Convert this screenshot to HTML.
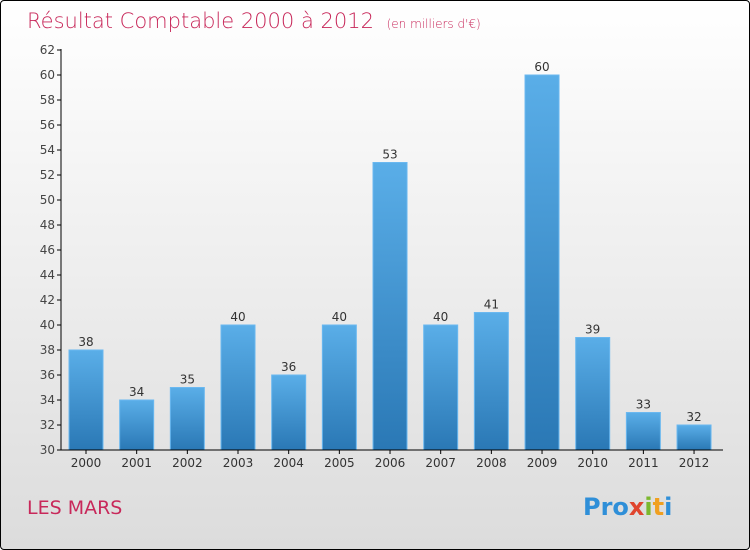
<!DOCTYPE html>
<html><head><meta charset="utf-8"><style>
body{margin:0}
#c{position:relative;width:748px;height:548px;border:1px solid #000;border-radius:4px;background:linear-gradient(#fff,#dcdcdc);overflow:hidden;font-family:"DejaVu Sans","Liberation Sans",sans-serif}
</style></head><body>
<div id="c">
<svg width="748" height="548">
<defs><linearGradient id="g" x1="0" y1="0" x2="0" y2="1"><stop offset="0" stop-color="#5aaee8"/><stop offset="1" stop-color="#2a78b5"/></linearGradient></defs>
<text x="26" y="27" font-size="21" fill="#c8285a" font-family="DejaVu Sans" font-weight="200">Résultat Comptable 2000 à 2012 <tspan font-size="12" dx="6">(en milliers d'€)</tspan></text>
<text x="26" y="513" font-size="19" fill="#c8285a">LES MARS</text>
<text x="582" y="514" font-size="24" font-weight="bold"><tspan fill="#2f8fd8">Pro</tspan><tspan fill="#e0452e">x</tspan><tspan fill="#7cb82e">i</tspan><tspan fill="#f0a020">t</tspan><tspan fill="#2f8fd8">i</tspan></text>
<g id="plot"></g>
</svg></div>
<script>
const years=["2000","2001","2002","2003","2004","2005","2006","2007","2008","2009","2010","2011","2012"];
const values=[38,34,35,40,36,40,53,40,41,60,39,33,32];
const yTicks=[30,32,34,36,38,40,42,44,46,48,50,52,54,56,58,60,62];
const ns="http://www.w3.org/2000/svg";
const g=document.getElementById('plot');
const y=v=>449-(v-30)*12.5;
const x=i=>85+i*50.67;
function mk(t,a){const e=document.createElementNS(ns,t);for(const k in a)e.setAttribute(k,a[k]);g.appendChild(e);return e;}
yTicks.forEach(t=>{
 const l=mk('line',{x1:56,x2:60,y1:y(t),y2:y(t),stroke:'#000'});
 
 
 const tx=mk('text',{x:54,y:y(t)+4,'text-anchor':'end','font-size':12,fill:'#444'});tx.textContent=t;
 
 
});
values.forEach((v,i)=>{
 const r=mk('rect',{x:x(i)-17,y:y(v),width:34,height:y(30)-y(v),fill:'url(#g)',stroke:'#6ab8f0','stroke-width':1});
 
 
 const t=mk('text',{x:x(i),y:y(v)-4,'text-anchor':'middle','font-size':12,fill:'#333'});t.textContent=v;
 
 
 const tk=mk('line',{x1:x(i),x2:x(i),y1:449,y2:453,stroke:'#000'});
 
 
 const xl=mk('text',{x:x(i),y:466,'text-anchor':'middle','font-size':12,fill:'#333'});xl.textContent=years[i];
 
 
});
const ya=mk('line',{x1:60,x2:60,y1:48,y2:449,stroke:'#000'});


const xa=mk('line',{x1:60,x2:722,y1:449,y2:449,stroke:'#000'});


</script>
</body></html>
